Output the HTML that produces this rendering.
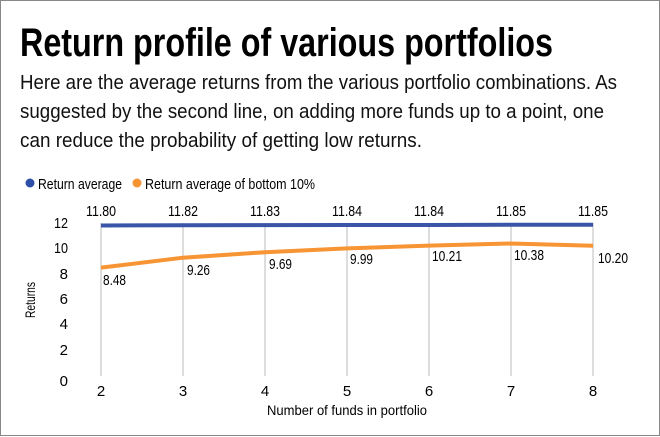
<!DOCTYPE html>
<html><head><style>body{margin:0;background:#fff}svg{display:block}text{font-family:"Liberation Sans",sans-serif}</style></head><body>
<svg width="660" height="437" viewBox="0 0 660 437">
<rect x="0.5" y="0.5" width="659" height="435" fill="#fff" stroke="#888" stroke-width="1"/>
<text x="20" y="56" font-size="40" font-weight="bold" textLength="533" lengthAdjust="spacingAndGlyphs">Return profile of various portfolios</text>
<g font-size="20" fill="#111">
<text x="20" y="89" textLength="597" lengthAdjust="spacingAndGlyphs">Here are the average returns from the various portfolio combinations. As</text>
<text x="20" y="118" textLength="584" lengthAdjust="spacingAndGlyphs">suggested by the second line, on adding more funds up to a point, one</text>
<text x="20" y="147" textLength="402" lengthAdjust="spacingAndGlyphs">can reduce the probability of getting low returns.</text>
</g>
<circle cx="30" cy="183" r="4.5" fill="#2e4fa8"/>
<text x="38" y="189" font-size="15" textLength="84" lengthAdjust="spacingAndGlyphs">Return average</text>
<circle cx="137" cy="183" r="4.5" fill="#f79433"/>
<text x="145" y="189" font-size="15" textLength="170" lengthAdjust="spacingAndGlyphs">Return average of bottom 10%</text>
<g stroke="#bbb" stroke-width="1">
<line x1="101" y1="223" x2="101" y2="376"/><line x1="183" y1="223" x2="183" y2="376"/><line x1="265" y1="223" x2="265" y2="376"/><line x1="347" y1="223" x2="347" y2="376"/><line x1="429" y1="223" x2="429" y2="376"/><line x1="511" y1="223" x2="511" y2="376"/><line x1="593" y1="223" x2="593" y2="376"/>
</g>
<g font-size="15" text-anchor="end">
<text x="68" y="228" textLength="14" lengthAdjust="spacingAndGlyphs">12</text><text x="68" y="253" textLength="14" lengthAdjust="spacingAndGlyphs">10</text><text x="68" y="279">8</text><text x="68" y="304">6</text><text x="68" y="329">4</text><text x="68" y="355">2</text><text x="68" y="386">0</text>
</g>
<g font-size="15" text-anchor="middle">
<text x="101" y="396">2</text><text x="183" y="396">3</text><text x="265" y="396">4</text><text x="347" y="396">5</text><text x="429" y="396">6</text><text x="511" y="396">7</text><text x="593" y="396">8</text>
<text x="347" y="415" font-size="14" textLength="160" lengthAdjust="spacingAndGlyphs">Number of funds in portfolio</text>
<text transform="translate(35,300) rotate(-90)" font-size="14" textLength="36" lengthAdjust="spacingAndGlyphs">Returns</text>
</g>
<polyline points="101,225.5 183,225.2 265,225.1 347,225 429,225 511,224.8 593,224.8" fill="none" stroke="#3a55a8" stroke-width="4"/>
<polyline points="101,267.6 183,257.7 265,252.2 347,248.4 429,245.6 511,243.5 593,245.8" fill="none" stroke="#f79433" stroke-width="4"/>
<g font-size="15" text-anchor="middle">
<text x="101" y="216" textLength="30" lengthAdjust="spacingAndGlyphs">11.80</text><text x="183" y="216" textLength="30" lengthAdjust="spacingAndGlyphs">11.82</text><text x="265" y="216" textLength="30" lengthAdjust="spacingAndGlyphs">11.83</text><text x="347" y="216" textLength="30" lengthAdjust="spacingAndGlyphs">11.84</text><text x="429" y="216" textLength="30" lengthAdjust="spacingAndGlyphs">11.84</text><text x="511" y="216" textLength="30" lengthAdjust="spacingAndGlyphs">11.85</text><text x="593" y="216" textLength="30" lengthAdjust="spacingAndGlyphs">11.85</text>
</g>
<g font-size="15">
<text x="103" y="285" textLength="23" lengthAdjust="spacingAndGlyphs">8.48</text><text x="187" y="275" textLength="23" lengthAdjust="spacingAndGlyphs">9.26</text><text x="269" y="269" textLength="23" lengthAdjust="spacingAndGlyphs">9.69</text><text x="350" y="264" textLength="23" lengthAdjust="spacingAndGlyphs">9.99</text><text x="432" y="261" textLength="30" lengthAdjust="spacingAndGlyphs">10.21</text><text x="514" y="260" textLength="30" lengthAdjust="spacingAndGlyphs">10.38</text><text x="598" y="263" textLength="30" lengthAdjust="spacingAndGlyphs">10.20</text>
</g>
</svg>
</body></html>
